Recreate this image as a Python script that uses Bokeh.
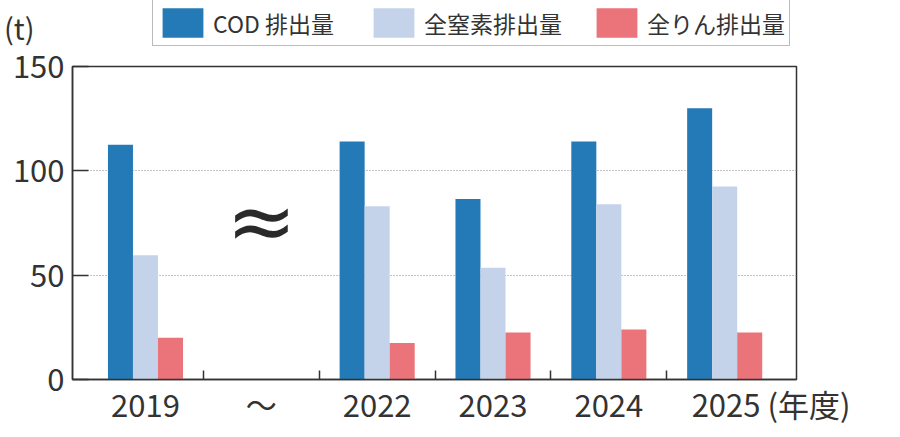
from bokeh.plotting import figure
from bokeh.layouts import column
from bokeh.models import (ColumnDataSource, Range1d, FixedTicker, Legend,
                          LegendItem)
from bokeh.transform import dodge
from bokeh.core.properties import value
from bokeh.embed import file_html
from bokeh.resources import INLINE

nan = float("nan")

# ---- data ----
years = ["2019", "〜", "2022", "2023", "2024", "2025"]
cod = [112.5, nan, 114, 86.5, 114, 130]
nitrogen = [59.5, nan, 83, 53.5, 84, 92.5]
phosphorus = [20, nan, 17.5, 22.5, 24, 22.5]
series_fields = ["cod", "nitrogen", "phosphorus"]
series_names = ["COD 排出量", "全窒素排出量", "全りん排出量"]
y_ticks = [0, 50, 100, 150]
unit_label = "(t)"
year_unit = "(年度)"
break_mark = "≈"

# ---- style ----
FONT = "Noto Sans CJK JP"
TXT = "#333333"
LINE = "#333333"
colors = ["#247ab6", "#c5d3ea", "#eb737a"]
bar_w = 0.216
last_label_shift = 0.40   # keeps "2025" centred under its bars

W = 880
BORDER_L, BORDER_R = 71, 84
FRAME_W = W - BORDER_L - BORDER_R
TOP_H = 46
MAIN_H = 384
UNIT_Y = 30               # header-strip pixel height of the "(t)" label

centers = [i + 0.5 for i in range(len(years))]
src = ColumnDataSource(dict(x=centers, cod=cod, nitrogen=nitrogen,
                            phosphorus=phosphorus))

# ---------- header strip: unit + legend ----------
head = figure(width=W, height=TOP_H, output_backend="svg",
              toolbar_location=None, x_range=Range1d(0, FRAME_W),
              y_range=Range1d(0, TOP_H), min_border_left=BORDER_L,
              min_border_right=BORDER_R, min_border_top=0,
              min_border_bottom=0, title=None, x_axis_location=None,
              y_axis_location="left")
head.grid.visible = False
head.outline_line_color = None
hy = head.yaxis[0]
hy.ticker = FixedTicker(ticks=[UNIT_Y], minor_ticks=[])
hy.major_label_overrides = {UNIT_Y: unit_label}
hy.axis_line_color = None
hy.major_tick_line_color = None
hy.major_tick_in = 0
hy.major_tick_out = 0
hy.minor_tick_line_color = None
hy.major_label_standoff = 38
hy.major_label_text_font = FONT
hy.major_label_text_font_size = "29px"
hy.major_label_text_color = TXT

proxies = []
for field, col in zip(series_fields, colors):
    r = head.vbar(x="x", top=field, width=bar_w, source=src,
                  fill_color=col, line_color=col, line_width=0)
    r.visible = False
    proxies.append(r)

legend = Legend(items=[LegendItem(label=n, renderers=[r])
                       for n, r in zip(series_names, proxies)],
                orientation="horizontal", location=(80, 0),
                glyph_width=51, glyph_height=37, label_text_font=FONT,
                label_text_font_size="23px", label_text_color=TXT,
                label_width=126, spacing=29, padding=4, margin=0,
                label_standoff=5, border_line_color="#777777",
                border_line_width=1, background_fill_color="white",
                inactive_fill_alpha=0)
head.add_layout(legend)

# ---------- main chart ----------
p = figure(width=W, height=MAIN_H, output_backend="svg",
           toolbar_location=None, x_range=Range1d(-0.13, 6.12),
           y_range=Range1d(0, 150), min_border_left=BORDER_L,
           min_border_right=BORDER_R, min_border_top=20,
           min_border_bottom=51, title=None,
           background_fill_color="white", border_fill_color="white")
p.outline_line_color = LINE
p.outline_line_width = 1.5

for field, off, col in zip(series_fields, [-bar_w, 0, bar_w], colors):
    p.vbar(x=dodge("x", off), top=field, bottom=0, width=bar_w,
           source=src, fill_color=col, line_color=col, line_width=0)

label_pos = centers[:-1] + [centers[-1] + last_label_shift]
label_txt = years[:-1] + [years[-1] + " " + year_unit]
p.xaxis.ticker = FixedTicker(ticks=label_pos,
                             minor_ticks=list(range(1, len(years))))
p.xaxis.major_label_overrides = {c: t for c, t in zip(label_pos, label_txt)}
p.xaxis.major_tick_in = 0
p.xaxis.major_tick_out = 0
p.xaxis.minor_tick_in = 9
p.xaxis.minor_tick_out = 0
p.xaxis.minor_tick_line_color = LINE
p.xaxis.minor_tick_line_width = 1.5
p.xaxis.major_label_text_font = FONT
p.xaxis.major_label_text_font_size = "31px"
p.xaxis.major_label_text_color = TXT
p.xaxis.major_label_standoff = 1
p.xaxis.axis_line_color = LINE
p.xaxis.axis_line_width = 1.5

p.yaxis.ticker = FixedTicker(ticks=y_ticks, minor_ticks=[])
p.yaxis.major_tick_in = 16
p.yaxis.major_tick_out = 0
p.yaxis.major_tick_line_color = LINE
p.yaxis.major_tick_line_width = 1.5
p.yaxis.minor_tick_line_color = None
p.yaxis.major_label_text_font = FONT
p.yaxis.major_label_text_font_size = "31px"
p.yaxis.major_label_text_color = TXT
p.yaxis.major_label_standoff = 8
p.yaxis.axis_line_color = LINE
p.yaxis.axis_line_width = 1.5

p.xgrid.grid_line_color = None
p.ygrid.grid_line_color = "#888888"
p.ygrid.grid_line_dash = "1 2"
p.ygrid.grid_line_width = 1

bi = years.index("〜")
p.text(x=[centers[bi]], y=[76], text=[break_mark],
       text_font=value("DejaVu Sans"), text_font_size="84px",
       text_align="center", text_baseline="middle", text_color="#2a2a2a")

layout = column(head, p, spacing=0)
open("out.html", "w").write(file_html(layout, INLINE))
